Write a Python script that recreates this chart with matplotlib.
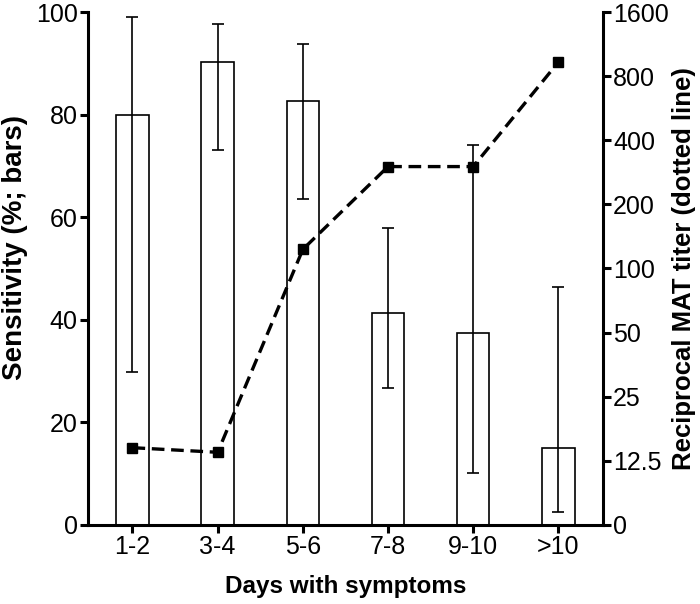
import numpy as np
import matplotlib
matplotlib.use('Agg')
import matplotlib.pyplot as plt

plt.rcParams['font.family'] = ['Liberation Sans', 'DejaVu Sans']

# Data
days = ['1-2', '3-4', '5-6', '7-8', '9-10', '>10']
sensitivity = [80.0, 90.3, 82.7, 41.4, 37.5, 15.0]
ci_low = [29.9, 73.2, 63.6, 26.6, 10.1, 2.5]
ci_high = [99.1, 97.6, 93.7, 57.8, 74.1, 46.4]
mat_titer = [14.4, 13.7, 123, 301, 301, 932]
titer_ticks = [0, 12.5, 25, 50, 100, 200, 400, 800, 1600]
titer_labels = ['0', '12.5', '25', '50', '100', '200', '400', '800', '1600']


# linear from 0 to 12.5, log2 above (each doubling = one step)
def fwd(t):
    t = np.asarray(t, dtype=float)
    with np.errstate(divide='ignore', invalid='ignore'):
        return np.where(t <= 12.5, t / 12.5, np.log2(np.maximum(t, 1e-9) / 12.5) + 1)


def inv(i):
    i = np.asarray(i, dtype=float)
    return np.where(i <= 1, i * 12.5, 12.5 * 2 ** (i - 1))


x = np.arange(len(days))
sens = np.array(sensitivity)
yerr = [sens - np.array(ci_low), np.array(ci_high) - sens]

fig = plt.figure(figsize=(7, 6.04), dpi=100)
ax = fig.add_axes([0.126, 0.131, 0.735, 0.849])

ax.bar(x, sens, width=0.38, color='white', edgecolor='black', linewidth=1.2, zorder=2)
ax.errorbar(x, sens, yerr=yerr, fmt='none', ecolor='black', elinewidth=1.2,
            capsize=4, capthick=1.2, zorder=3)

ax.set_xlim(-0.52, 5.52)
ax.set_ylim(0, 100)
ax.set_yticks([0, 20, 40, 60, 80, 100])
ax.set_xticks(x)
ax.set_xticklabels(days)
ax.set_xlabel('Days with symptoms', fontsize=17.5, fontweight='bold', labelpad=11)
ax.set_ylabel('Sensitivity (%; bars)', fontsize=20, fontweight='bold')
ax.yaxis.set_label_coords(-0.117, 0.54)

ax2 = ax.twinx()
ax2.set_yscale('function', functions=(fwd, inv))
ax2.set_ylim(0, 1600)
ax2.set_yticks(titer_ticks)
ax2.set_yticklabels(titer_labels)
ax2.plot(x, mat_titer, color='black', linestyle=(0, (3.8, 2)), linewidth=2.4,
         marker='s', markersize=7, clip_on=False)
ax2.set_ylabel('Reciprocal MAT titer (dotted line)', fontsize=18.5, fontweight='bold')
ax2.yaxis.set_label_coords(1.134, 0.5)

for a in (ax, ax2):
    a.spines['top'].set_visible(False)
    for s in ('left', 'right', 'bottom'):
        a.spines[s].set_linewidth(2.2)
    a.tick_params(axis='both', which='major', direction='out', length=5.5, width=2.2,
                  labelsize=18, pad=2)
    a.tick_params(axis='y', which='minor', left=False, right=False)
ax.spines['right'].set_visible(False)
ax2.spines['left'].set_visible(False)
ax2.spines['bottom'].set_visible(False)

fig.savefig('out.png', dpi=100)
